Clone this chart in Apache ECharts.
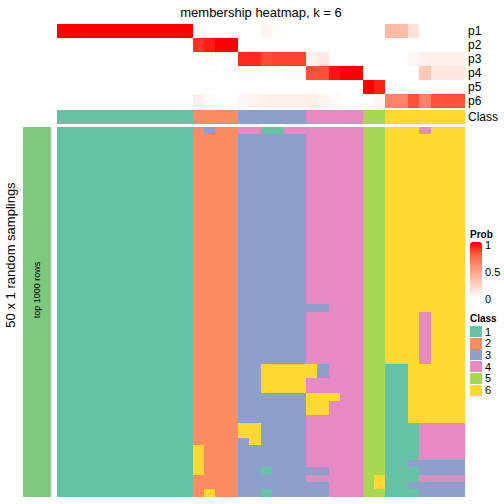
<!DOCTYPE html>
<html><head><meta charset="utf-8">
<script src="https://cdn.jsdelivr.net/npm/echarts@6/dist/echarts.min.js"></script>
<style>html,body{margin:0;padding:0;background:#fff}#c{width:504px;height:504px}#c svg path{shape-rendering:crispEdges}</style>
</head><body><div id="c"></div>
<script>
const FONT = "'Liberation Sans', Arial, Helvetica, sans-serif";
const titleText = 'membership heatmap, k = 6';
const probLabels = ['p1', 'p2', 'p3', 'p4', 'p5', 'p6'];
// membership probabilities per column (36 columns)
const p1 = [1,1,1,1,1,1,1,1,1,1,1,1, 0,0,0,0, 0,0,0.05,0.02,0,0, 0,0,0,0,0, 0,0, 0.35,0.35,0.15,0,0,0,0];
const p2 = [0,0,0,0,0,0,0,0,0,0,0,0, 0.88,0.93,1,1, 0,0,0,0,0,0, 0,0,0,0,0, 0,0, 0,0,0,0,0,0,0];
const p3 = [0,0,0,0,0,0,0,0,0,0,0,0, 0,0.02,0,0, 0.9,0.9,0.82,0.84,0.84,0.84, 0.07,0.12,0,0,0, 0,0, 0,0,0.04,0.08,0.08,0.08,0.08];
const p4 = [0,0,0,0,0,0,0,0,0,0,0,0, 0,0,0,0, 0.02,0.02,0,0,0.02,0.02, 0.8,0.8,0.95,1,1, 0,0, 0,0,0,0.28,0.12,0.12,0.12];
const p5 = [0,0,0,0,0,0,0,0,0,0,0,0, 0,0,0,0, 0,0,0,0,0,0, 0,0,0,0,0, 1,0.92, 0,0,0,0,0,0,0];
const p6 = [0,0,0,0,0,0,0,0,0,0,0,0, 0.08,0.03,0,0, 0.04,0.06,0.08,0.08,0.08,0.08, 0.1,0.06,0.03,0,0, 0,0.04, 0.62,0.62,0.8,0.62,0.8,0.8,0.8];
const classRow = [1,1,1,1,1,1,1,1,1,1,1,1, 2,2,2,2, 3,3,3,3,3,3, 4,4,4,4,4, 5,5, 6,6,6,6,6,6,6];
const classNames = ['1', '2', '3', '4', '5', '6'];
const classColors = ['#66C2A5', '#FC8D62', '#8DA0CB', '#E78AC3', '#A6D854', '#FFD92F'];
// 50 random samplings, class per column
const samplings = [
 '111111111111 2322 441144 44444 55 6664666',
 '111111111111 2222 333333 44444 55 6666666',
 '111111111111 2222 333333 44444 55 6666666',
 '111111111111 2222 333333 44444 55 6666666',
 '111111111111 2222 333333 44444 55 6666666',
 '111111111111 2222 333333 44444 55 6666666',
 '111111111111 2222 333333 44444 55 6666666',
 '111111111111 2222 333333 44444 55 6666666',
 '111111111111 2222 333333 44444 55 6666666',
 '111111111111 2222 333333 44444 55 6666666',
 '111111111111 2222 333333 44444 55 6666666',
 '111111111111 2222 333333 44444 55 6666666',
 '111111111111 2222 333333 44444 55 6666666',
 '111111111111 2222 333333 44444 55 6666666',
 '111111111111 2222 333333 44444 55 6666666',
 '111111111111 2222 333333 44444 55 6666666',
 '111111111111 2222 333333 44444 55 6666666',
 '111111111111 2222 333333 44444 55 6666666',
 '111111111111 2222 333333 44444 55 6666666',
 '111111111111 2222 333333 44444 55 6666666',
 '111111111111 2222 333333 44444 55 6666666',
 '111111111111 2222 333333 44444 55 6666666',
 '111111111111 2222 333333 44444 55 6666666',
 '111111111111 2222 333333 44444 55 6666666',
 '111111111111 2222 333333 33444 55 6666666',
 '111111111111 2222 333333 44444 55 6664666',
 '111111111111 2222 333333 44444 55 6664666',
 '111111111111 2222 333333 44444 55 6664666',
 '111111111111 2222 333333 44444 55 6664666',
 '111111111111 2222 333333 44444 55 6664666',
 '111111111111 2222 333333 44444 55 6664666',
 '111111111111 2222 333333 44444 55 6664666',
 '111111111111 2222 336666 63444 55 1166666',
 '111111111111 2222 336666 63444 55 1166666',
 '111111111111 2222 336666 44444 55 1166666',
 '111111111111 2222 336666 44444 55 1166666',
 '111111111111 2222 333333 66644 55 1166666',
 '111111111111 2222 333333 66444 55 1166666',
 '111111111111 2222 333333 66444 55 1166666',
 '111111111111 2222 333333 44444 55 1166666',
 '111111111111 2222 663333 44444 55 1114444',
 '111111111111 2222 663333 44444 55 1114444',
 '111111111111 2222 363333 44444 55 1114444',
 '111111111111 6222 333333 44444 55 1114444',
 '111111111111 6222 333333 44444 55 1114444',
 '111111111111 6222 333333 44444 55 1133333',
 '111111111111 6222 331333 33444 55 1113333',
 '111111111111 2222 333333 44444 56 1114444',
 '111111111111 2222 333333 33444 56 1133333',
 '111111111111 2622 331333 33444 55 1113333'
];
const sideLabel = 'top 1000 rows';
const rowTitle = '50 x 1 random samplings';
const probTicks = ['1', '0.5', '0'];

const colCats = classRow.map((_, i) => String(i));
const probData = [];
[p1, p2, p3, p4, p5, p6].forEach((arr, r) => arr.forEach((v, c) => probData.push([c, r, v])));
const classData = classRow.map((v, c) => [c, 0, v]);
const sampData = [];
samplings.forEach((s, r) => {
  const digits = s.replace(/\s/g, '');
  for (let c = 0; c < digits.length; c++) sampData.push([c, r, Number(digits[c])]);
});
const sampRows = samplings.map((_, i) => String(i));

const L = 57, W = 408;
const hideAxis = { axisLine: { show: false }, axisTick: { show: false }, axisLabel: { show: false }, splitLine: { show: false } };
const chart = echarts.init(document.getElementById('c'), null, { renderer: 'svg' });
chart.setOption({
  animation: false,
  textStyle: { fontFamily: FONT },
  grid: [
    { left: L, top: 24, width: W, height: 84 },
    { left: L, top: 110, width: W, height: 14 },
    { left: L, top: 127, width: W, height: 370 },
    { left: 23, top: 127, width: 28, height: 370 }
  ],
  xAxis: [
    Object.assign({ type: 'category', data: colCats, gridIndex: 0 }, hideAxis),
    Object.assign({ type: 'category', data: colCats, gridIndex: 1 }, hideAxis),
    Object.assign({ type: 'category', data: colCats, gridIndex: 2 }, hideAxis),
    Object.assign({ type: 'category', data: ['0'], gridIndex: 3 }, hideAxis)
  ],
  yAxis: [
    { type: 'category', data: probLabels, gridIndex: 0, inverse: true, position: 'right',
      axisLine: { show: false }, axisTick: { show: false }, splitLine: { show: false },
      axisLabel: { interval: 0, margin: 3, fontSize: 12, color: '#000', fontFamily: FONT } },
    { type: 'category', data: ['Class'], gridIndex: 1, inverse: true, position: 'right',
      axisLine: { show: false }, axisTick: { show: false }, splitLine: { show: false },
      axisLabel: { interval: 0, margin: 3, fontSize: 12, color: '#000', fontFamily: FONT } },
    Object.assign({ type: 'category', data: sampRows, gridIndex: 2, inverse: true }, hideAxis),
    Object.assign({ type: 'category', data: ['0'], gridIndex: 3 }, hideAxis)
  ],
  visualMap: [
    { type: 'continuous', seriesIndex: 0, min: 0, max: 1, calculable: false, orient: 'vertical',
      left: 470, top: 242, itemWidth: 12, itemHeight: 56, padding: 0, text: null, showLabel: false,
      inRange: { color: ['#FFFFFF', '#FFCFBF', '#FF9E81', '#FF6746', '#FF0000'] } },
    { type: 'piecewise', seriesIndex: [1, 2], orient: 'vertical', left: 470, top: 326, inverse: true, align: 'left',
      itemWidth: 12, itemHeight: 11, itemGap: 0.7, textGap: 3, padding: 0, selectedMode: false,
      itemSymbol: 'rect', textStyle: { fontSize: 11, color: '#000', fontFamily: FONT },
      pieces: classNames.map((n, i) => ({ value: i + 1, label: n, color: classColors[i] })) },
    { type: 'piecewise', seriesIndex: 3, show: false, pieces: [{ value: 1, color: '#7FC97F' }] }
  ],
  series: [
    { type: 'heatmap', xAxisIndex: 0, yAxisIndex: 0, data: probData, emphasis: { disabled: true } },
    { type: 'heatmap', xAxisIndex: 1, yAxisIndex: 1, data: classData, emphasis: { disabled: true } },
    { type: 'heatmap', xAxisIndex: 2, yAxisIndex: 2, data: sampData, emphasis: { disabled: true } },
    { type: 'heatmap', xAxisIndex: 3, yAxisIndex: 3, data: [[0, 0, 1]], emphasis: { disabled: true } }
  ],
  graphic: [
    { type: 'text', z: 100, x: 261, y: 12, style: { text: titleText, fontSize: 13, fontFamily: FONT, fill: '#000', textAlign: 'center', textVerticalAlign: 'middle' } },
    { type: 'text', z: 100, x: 10, y: 255, rotation: Math.PI / 2, style: { text: rowTitle, fontSize: 13, fontFamily: FONT, fill: '#000', textAlign: 'center', textVerticalAlign: 'middle' } },
    { type: 'text', z: 100, x: 37, y: 290, rotation: Math.PI / 2, style: { text: sideLabel, fontSize: 9, fontFamily: FONT, fill: '#000', textAlign: 'center', textVerticalAlign: 'middle' } },
    { type: 'text', z: 100, x: 470, y: 234, style: { text: 'Prob', fontSize: 10, fontWeight: 'bold', fontFamily: FONT, fill: '#000', textAlign: 'left', textVerticalAlign: 'middle' } },
    { type: 'text', z: 100, x: 485, y: 245, style: { text: probTicks[0], fontSize: 11, fontFamily: FONT, fill: '#000', textAlign: 'left', textVerticalAlign: 'middle' } },
    { type: 'text', z: 100, x: 485, y: 272, style: { text: probTicks[1], fontSize: 11, fontFamily: FONT, fill: '#000', textAlign: 'left', textVerticalAlign: 'middle' } },
    { type: 'text', z: 100, x: 485, y: 299, style: { text: probTicks[2], fontSize: 11, fontFamily: FONT, fill: '#000', textAlign: 'left', textVerticalAlign: 'middle' } },
    { type: 'text', z: 100, x: 470, y: 318, style: { text: 'Class', fontSize: 10, fontWeight: 'bold', fontFamily: FONT, fill: '#000', textAlign: 'left', textVerticalAlign: 'middle' } }
  ]
});
</script></body></html>
